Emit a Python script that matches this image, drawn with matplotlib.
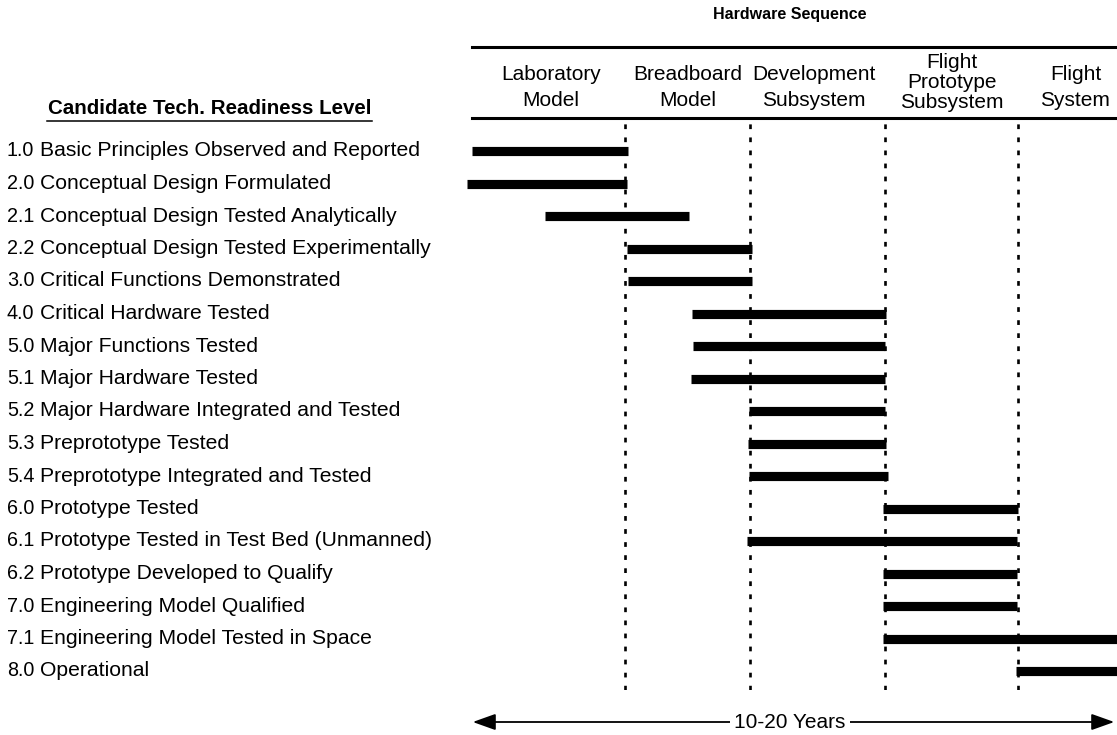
import matplotlib
matplotlib.use("Agg")
import matplotlib.pyplot as plt
import matplotlib.transforms as mtrans
from matplotlib.lines import Line2D
from matplotlib.patches import FancyArrowPatch

plt.rcParams['font.family'] = ['Liberation Sans', 'DejaVu Sans']
plt.rcParams['lines.scale_dashes'] = False

# ---- data ----
level_ids = ["1.0", "2.0", "2.1", "2.2", "3.0", "4.0", "5.0", "5.1", "5.2",
             "5.3", "5.4", "6.0", "6.1", "6.2", "7.0", "7.1", "8.0"]
level_names = [
    "Basic Principles Observed and Reported",
    "Conceptual Design Formulated",
    "Conceptual Design Tested Analytically",
    "Conceptual Design Tested Experimentally",
    "Critical Functions Demonstrated",
    "Critical Hardware Tested",
    "Major Functions Tested",
    "Major Hardware Tested",
    "Major Hardware Integrated and Tested",
    "Preprototype Tested",
    "Preprototype Integrated and Tested",
    "Prototype Tested",
    "Prototype Tested in Test Bed (Unmanned)",
    "Prototype Developed to Qualify",
    "Engineering Model Qualified",
    "Engineering Model Tested in Space",
    "Operational",
]
bar_start = [0.8, 0.0, 12.0, 24.6, 24.8, 34.6, 34.8, 34.5, 43.4,
             43.2, 43.4, 64.0, 43.1, 64.0, 64.0, 64.0, 84.5]
bar_end = [24.8, 24.6, 34.2, 43.8, 43.8, 64.5, 64.3, 64.3, 64.3,
           64.5, 64.8, 84.8, 84.6, 84.6, 84.6, 100.0, 100.0]
phase_names = ["Laboratory\nModel", "Breadboard\nModel", "Development\nSubsystem",
               "Flight\nPrototype\nSubsystem", "Flight\nSystem"]
phase_bounds = [24.3, 43.5, 64.3, 84.8]
phase_label_x = [12.9, 34.0, 53.4, 74.6, 93.6]

W, H = 1117, 735
FS = 15.0
fig = plt.figure(figsize=(W / 100, H / 100), dpi=100)

# axes covering bar region: x px 467..1117, y px 120..690
ax_left = 467 / W
ax_top, ax_bot = 1 - 120 / H, 1 - 690 / H
ax = fig.add_axes([ax_left, ax_bot, 1.0 - ax_left, ax_top - ax_bot])
ax.set_xlim(0, 100)
row0_px, step_px = 151, 32.5
ax.set_ylim((690 - row0_px) / step_px, -(row0_px - 120) / step_px)
ax.axis('off')

rows = list(range(len(level_ids)))
ax.hlines(rows, bar_start, bar_end, colors='black', linewidth=6.6, capstyle='butt')

for xb in phase_bounds:
    ax.axvline(xb, color='black', linewidth=1.9, linestyle=(0, (3.4, 6.0)))

# left labels
ytr = ax.get_yaxis_transform()
off = mtrans.offset_copy(ytr, fig=fig, x=0, y=-5.5, units='dots')
for i, (lid, name) in enumerate(zip(level_ids, level_names)):
    ax.text(-0.7077, i, lid, transform=off, ha='left', va='baseline', fontsize=14.2)
    ax.text(-0.657, i, name, transform=off, ha='left', va='baseline', fontsize=15.2)

# left header
fig.text(210 / W, 1 - 108 / H, "Candidate Tech. Readiness Level", ha='center',
         va='center', fontsize=14.8, fontweight='bold')
fig.add_artist(Line2D([47 / W, 372 / W], [1 - 121 / H, 1 - 121 / H],
                      color='black', linewidth=1.1))

# top header
fig.text(790 / W, 1 - 15 / H, "Hardware Sequence", ha='center', va='center',
         fontsize=11.5, fontweight='bold')
for yy in (47, 118):
    fig.add_artist(Line2D([472 / W, 1.0], [1 - yy / H, 1 - yy / H],
                          color='black', linewidth=2.2))

trans = mtrans.blended_transform_factory(ax.transData, fig.transFigure)
for name, xl in zip(phase_names, phase_label_x):
    lines = name.split("\n")
    if len(lines) == 3:
        ys = [62, 82, 102]
    else:
        ys = [75, 101]
    for ln, yy in zip(lines, ys):
        fig.text(xl, 1 - yy / H, ln, transform=trans, ha='center', va='center',
                 fontsize=FS)

# bottom arrow
ay = 1 - 722 / H
fig.add_artist(FancyArrowPatch(
    (470 / W, ay), (1.0, ay), transform=fig.transFigure,
    arrowstyle='<|-|>,head_length=14,head_width=5', color='black', linewidth=1.3,
    mutation_scale=1))
fig.text(790 / W, ay, "10-20 Years", ha='center', va='center', fontsize=FS,
         bbox=dict(facecolor='white', edgecolor='none', pad=3))

fig.savefig("out.png", dpi=100)
